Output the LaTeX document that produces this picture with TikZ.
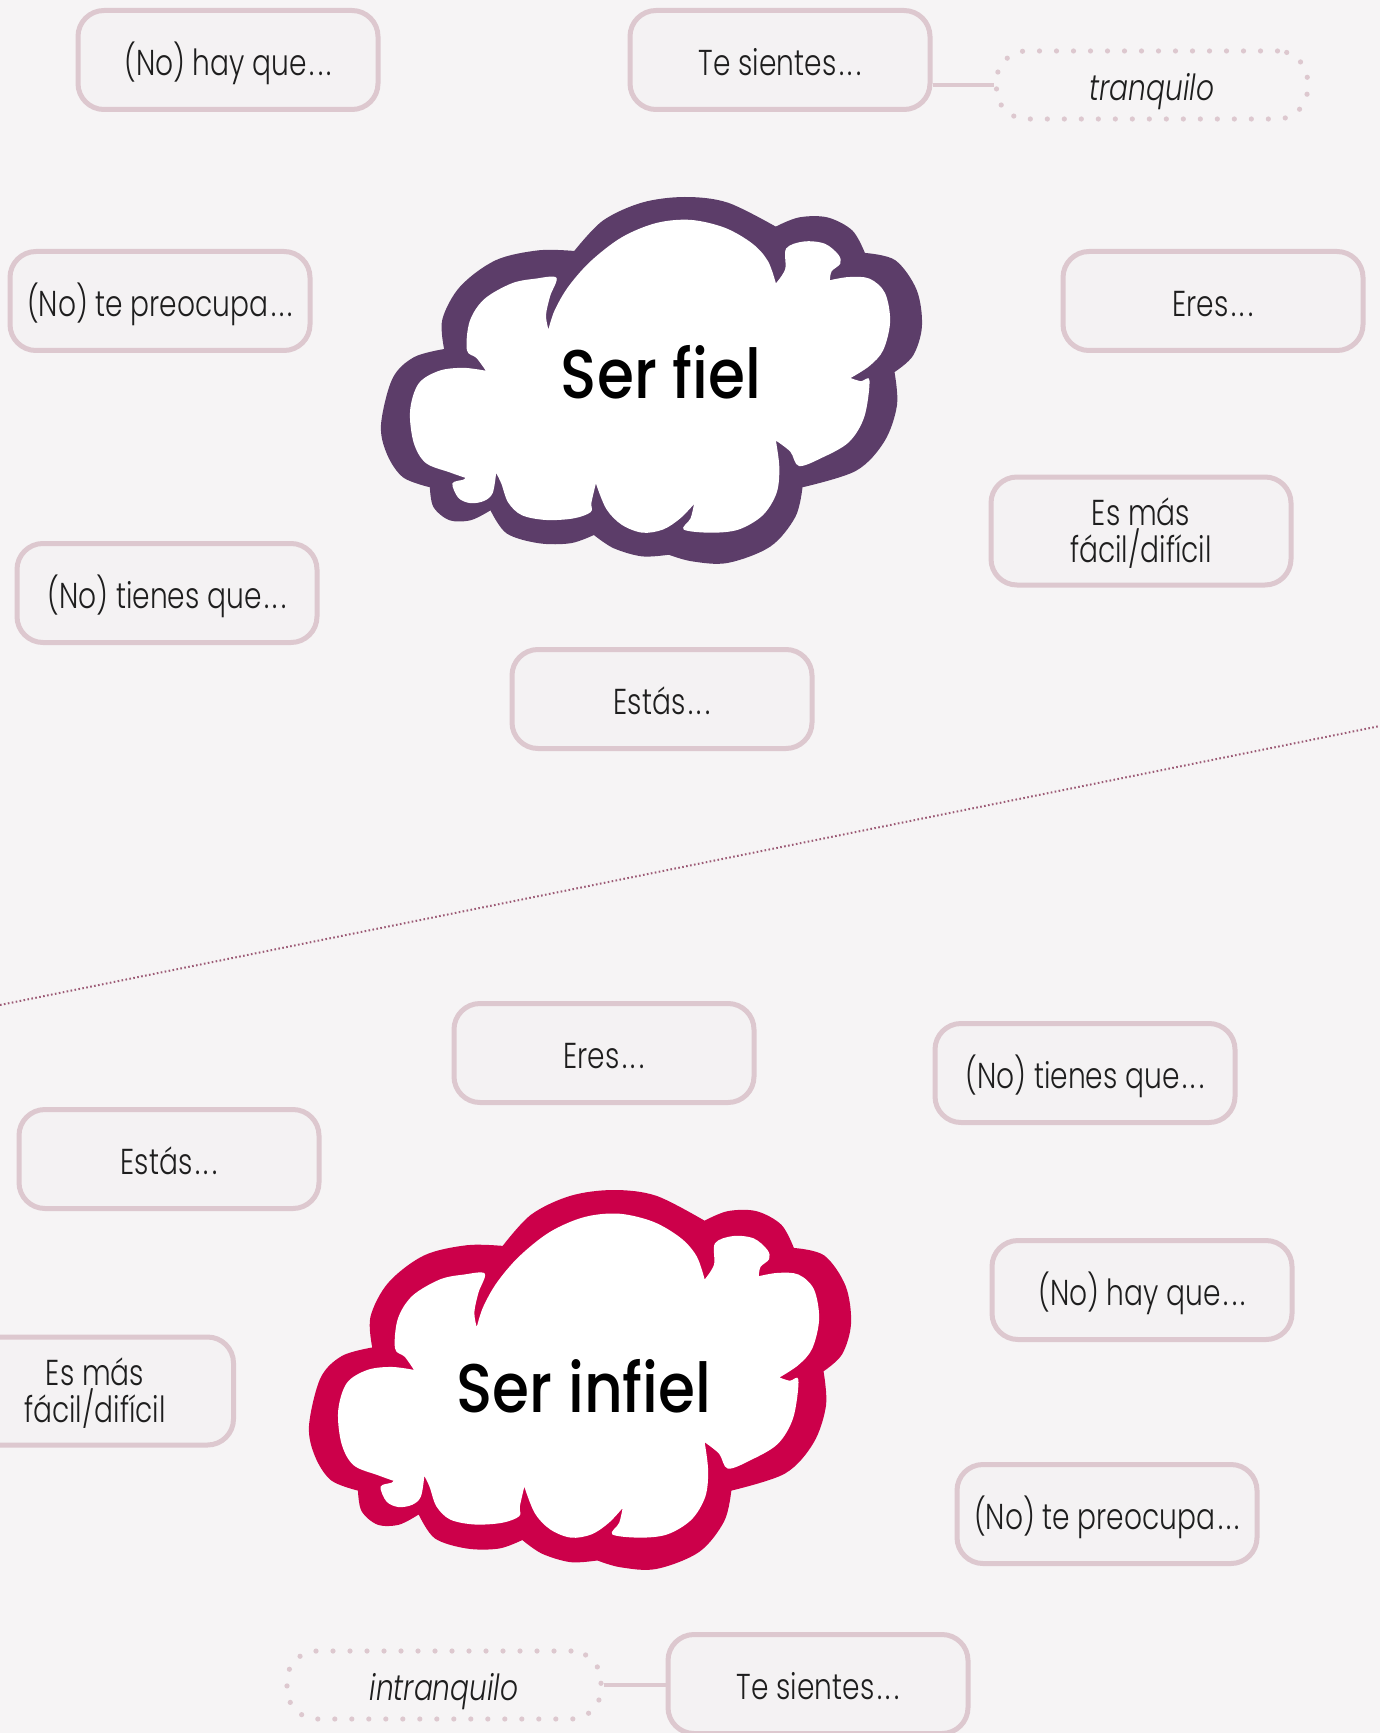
\documentclass[tikz,border=0pt]{standalone}
\usepackage{fontspec}
\newfontfamily\lblfont{Poppins Light}[FakeStretch=0.78, ItalicFont={Poppins Light Italic}]
\newfontfamily\ttlfont{Poppins Medium}[FakeStretch=0.87]

% spaced trailing dots
\newcommand\trail{\kern1.5pt.\kern1.6pt.\kern1.6pt.}

\definecolor{pagebg}{HTML}{F6F4F5}
\definecolor{boxfill}{HTML}{F4F2F3}
\definecolor{boxline}{HTML}{DDC8CF}
\definecolor{ink}{HTML}{1E1E1E}
\definecolor{fielcol}{HTML}{5C3D69}
\definecolor{infielcol}{HTML}{CC004A}
\definecolor{divcol}{HTML}{9C5A75}

% Cloud outline: outer rim, in the cloud's own unit frame
\newcommand\cloudrim{%
 plot[smooth,tension=0.55] coordinates {(205,510) (200,420) (250,320) (350,240) (470,210) (570,212)}
 -- plot[smooth,tension=0.55] coordinates {(570,212) (650,120) (760,65) (880,48) (1000,65) (1135,138)}
 -- plot[smooth,tension=0.55] coordinates {(1135,138) (1200,110) (1280,110) (1350,150) (1385,218)}
 -- plot[smooth,tension=0.55] coordinates {(1385,218) (1470,240) (1530,330) (1545,440) (1520,530) (1468,580)}
 -- plot[smooth,tension=0.55] coordinates {(1468,580) (1475,680) (1440,790) (1360,880) (1210,930)}
 -- plot[smooth,tension=0.55] coordinates {(1210,930) (1190,1020) (1120,1110) (1000,1160) (900,1155) (835,1135)}
 -- plot[smooth,tension=0.55] coordinates {(835,1135) (760,1140) (680,1115) (625,1075)}
 -- plot[smooth,tension=0.55] coordinates {(625,1075) (560,1100) (470,1100) (380,1070) (335,1000)}
 -- plot[smooth,tension=0.55] coordinates {(335,1000) (280,1030) (220,1030) (175,990) (165,930)}
 -- plot[smooth,tension=0.55] coordinates {(165,930) (90,900) (45,830) (28,740) (60,600) (120,535) (205,510)}
 -- cycle}

% Cloud interior: white lobes meeting in tapering tails
\newcommand\cloudcore{%
 plot[smooth,tension=0.55] coordinates {(245,912) (200,895) (130,865) (95,800) (85,700) (110,615) (170,575) (240,566) (305,575)}
 -- plot[smooth,tension=0.55] coordinates {(305,575) (278,535) (250,510) (258,420) (300,350) (380,300) (450,285) (510,282) (492,340) (480,400) (487,445)}
 -- plot[smooth,tension=0.55] coordinates {(487,445) (505,385) (545,310) (610,230) (700,155) (800,110) (900,100) (1000,125) (1080,175) (1125,230) (1148,300)}
 -- plot[smooth,tension=0.55] coordinates {(1148,300) (1175,255) (1178,190) (1230,168) (1290,175) (1330,210) (1335,238) (1310,262) (1305,290)}
 -- plot[smooth,tension=0.55] coordinates {(1305,290) (1360,280) (1420,285) (1465,330) (1480,420) (1460,510) (1420,560) (1365,598)}
 -- plot[smooth,tension=0.55] coordinates {(1365,598) (1395,608) (1420,605) (1405,720) (1360,800) (1280,850) (1215,875) (1190,830) (1148,795)}
 -- plot[smooth,tension=0.55] coordinates {(1148,795) (1158,880) (1150,960) (1110,1030) (1040,1075) (960,1085) (880,1075) (900,1040) (910,995)}
 -- plot[smooth,tension=0.55] coordinates {(910,995) (870,1040) (820,1075) (760,1085) (700,1060) (655,1010) (625,930)}
 -- plot[smooth,tension=0.55] coordinates {(625,930) (612,990) (610,1020) (560,1040) (480,1045) (410,1030) (370,990) (350,930) (335,897)}
 -- plot[smooth,tension=0.55] coordinates {(335,897) (325,960) (300,985) (260,992) (225,975) (208,930) (240,918) (245,912)}
 -- cycle}

% one cloud: rim colour, interior pulled slightly inward for a heavier stroke
\newcommand\drawcloud[1]{%
  \fill[#1] \cloudrim;
  \begin{scope}[shift={(787,600)}, scale=0.965, shift={(-787,-600)}]
    \fill[white] \cloudcore;
  \end{scope}}

\begin{document}
\begin{tikzpicture}[x=0.5pt, y=-0.5pt,
  boxbase/.style={draw=boxline, fill=boxfill, line width=2.5pt, rounded corners=13pt,
    minimum width=150pt, inner sep=0pt, align=center, text=ink},
  lbl/.style={boxbase, minimum height=49.5pt,
    font=\lblfont\fontsize{18}{18.8}\selectfont,
    text height=19.6pt, text depth=4pt},
  lbltwo/.style={boxbase, minimum height=54pt,
    font=\lblfont\fontsize{18}{18.5}\selectfont,
    text height=34.5pt, text depth=3pt},
  dotbox/.style={draw=boxline, line width=2.6pt, dash pattern=on 0pt off 8.5pt,
    line cap=round, rounded corners=15pt, minimum height=34pt, inner sep=0pt,
    text=ink, font=\lblfont\itshape\fontsize{18}{18.8}\selectfont,
    text height=19.6pt, text depth=4pt},
  conn/.style={draw=boxline, line width=1.6pt},
  divider/.style={draw=divcol, line width=1pt, dash pattern=on 0.8pt off 1.2pt},
  title/.style={text=black, font=\ttlfont\fontsize{34.4}{36}\selectfont, inner sep=0pt}
]
\useasboundingbox (0,0) rectangle (1380,1733);
\clip (0,0) rectangle (1380,1733);
\fill[pagebg] (0,0) rectangle (1380,1733);

% dotted divider between the two halves
\coordinate (divL) at (0,1005);
\coordinate (divR) at (1380,726);
\draw[divider] (divL) -- (divR);

% upper cloud
\begin{scope}[shift={(381,197)}, xscale=0.3566, yscale=0.3291, shift={(-28,-48)}]
  \drawcloud{fielcol}
\end{scope}
\node[title] (fiel) at (661,372) {Ser fiel};

% lower cloud
\begin{scope}[shift={(309,1190)}, xscale=0.3573, yscale=0.3408, shift={(-28,-48)}]
  \drawcloud{infielcol}
\end{scope}
\node[title] (infiel) at (584,1386) {Ser infiel};

% upper half prompts
\node[lbl] (hayA) at (228,60) {(No) hay que\trail};
\node[lbl] (sientesA) at (780,60) {Te sientes\trail};
\node[dotbox, minimum width=155.5pt] (tranq) at (1152,85) {tranquilo};
\node[lbl] (preocA) at (160,301) {(No) te preocupa\trail};
\node[lbl] (eresA) at (1213,301) {Eres\trail};
\node[lbltwo] (masA) at (1141,531) {Es más\\fácil/difícil};
\node[lbl] (tienesA) at (167,593) {(No) tienes que\trail};
\node[lbl] (estasA) at (662,699) {Estás\trail};

% lower half prompts
\node[lbl] (eresB) at (604,1053) {Eres\trail};
\node[lbl] (tienesB) at (1085,1073) {(No) tienes que\trail};
\node[lbl] (estasB) at (169,1159) {Estás\trail};
\node[lbl] (hayB) at (1142,1290) {(No) hay que\trail};
\node[lbltwo, minimum width=138.5pt] (masB) at (95,1391) {Es más\\fácil/difícil};
\node[lbl] (preocB) at (1107,1514) {(No) te preocupa\trail};
\node[dotbox, minimum width=157pt] (intr) at (444,1685) {intranquilo};
\node[lbl] (sientesB) at (818,1684) {Te sientes\trail};

% links to the sample answers
\draw[conn] (sientesA.east |- tranq.west) -- (tranq.west);
\draw[conn] (intr.east) -- (sientesB.west |- intr.east);
\end{tikzpicture}
\end{document}
